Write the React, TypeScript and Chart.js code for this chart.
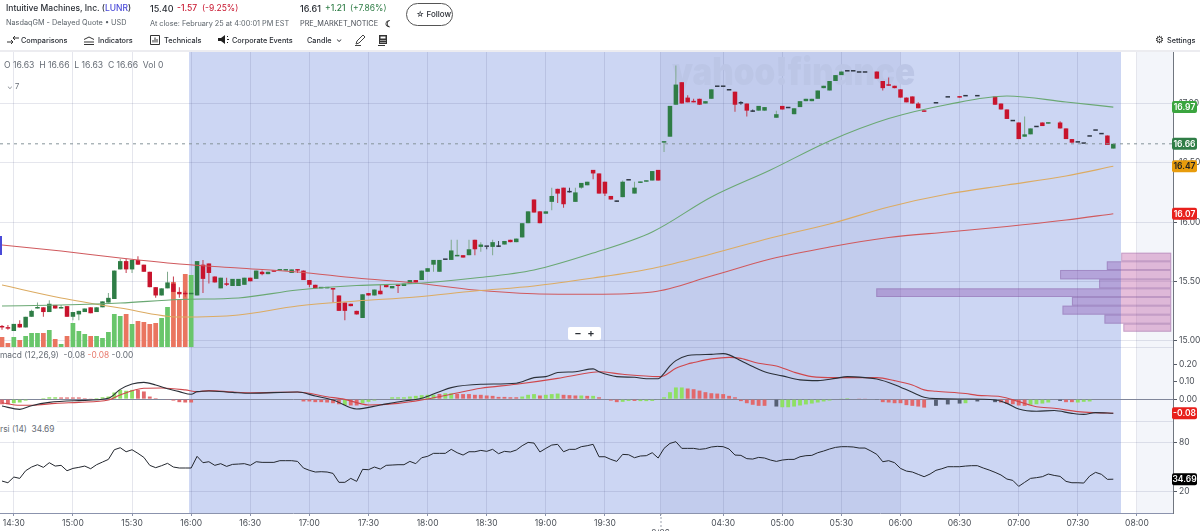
import { useEffect, useRef } from 'react';
import { Chart, registerables } from 'chart.js';

Chart.register(...registerables);

// one candle every 3 minutes; bar 2 is 14:30, overnight gap sits between bar 111 and 112
const opens = [
  15.12,15.11,15.08,15.14,15.11,15.20,15.27,15.28,15.24,15.30,
  15.27,15.29,15.20,15.22,15.24,15.28,15.24,15.28,15.32,15.35,
  15.60,15.67,15.60,15.68,15.64,15.58,15.45,15.38,15.44,15.48,
  15.41,15.40,15.39,15.38,15.64,15.65,15.54,15.44,15.48,15.46,
  15.46,15.47,15.53,15.52,15.58,15.56,15.59,15.59,15.59,15.57,
  15.60,15.59,15.51,15.47,15.44,15.44,15.44,15.38,15.32,15.31,
  15.25,15.19,15.40,15.38,15.42,15.47,15.44,15.47,15.46,15.48,
  15.51,15.51,15.58,15.64,15.58,15.68,15.68,15.71,15.72,15.72,
  15.85,15.79,15.79,15.79,15.79,15.81,15.85,15.83,15.87,15.99,
  16.19,16.09,16.07,16.17,16.28,16.29,16.25,16.17,16.29,16.31,
  16.44,16.41,16.34,16.22,16.17,16.21,16.35,16.24,16.33,16.34,
  16.35,16.44,16.67,16.72,16.99,17.18,17.05,17.02,17.04,17.00,
  17.04,17.14,17.14,17.11,17.10,17.00,17.00,16.93,16.94,16.94,
  null,16.88,16.98,16.96,16.91,16.97,17.02,17.02,17.04,17.13,
  17.11,17.19,17.24,17.27,17.27,17.26,17.26,null,17.27,17.19,
  17.16,17.15,17.12,17.05,17.06,17.00,16.94,null,17.00,null,
  17.05,null,17.06,17.06,null,17.06,null,null,17.06,17.00,
  16.95,16.85,16.84,16.72,16.74,16.80,16.84,16.83,null,16.84,
  16.79,16.70,16.67,16.66,16.72,16.77,16.74,16.73,16.62,
];
const highs = [
  15.13,15.13,15.14,15.17,15.20,15.26,15.32,15.28,15.34,15.30,
  15.30,15.29,15.24,15.25,15.27,15.28,15.28,15.33,15.40,15.59,
  15.69,15.69,15.68,15.71,15.64,15.58,15.45,15.44,15.58,15.54,
  15.45,15.42,15.40,15.67,15.68,15.65,15.54,15.53,15.53,15.52,
  15.52,15.53,15.53,15.59,15.59,15.58,15.59,15.60,15.60,15.60,
  15.60,15.59,15.51,15.47,15.45,15.45,15.44,15.38,15.32,15.31,
  15.25,15.39,15.40,15.43,15.47,15.47,15.46,15.47,15.48,15.51,
  15.51,15.59,15.61,15.68,15.68,15.68,15.85,15.85,15.72,15.85,
  15.85,15.83,15.79,15.85,15.84,15.84,15.85,15.86,15.99,16.09,
  16.19,16.09,16.09,16.29,16.28,16.29,16.29,16.29,16.33,16.34,
  16.44,16.41,16.34,16.22,16.18,16.35,16.35,16.34,16.34,16.35,
  16.43,16.44,16.68,16.98,17.32,17.18,17.07,17.04,17.04,17.02,
  17.12,17.14,17.14,17.11,17.10,17.02,17.00,16.95,16.98,16.97,
  null,16.94,16.98,16.96,16.96,17.02,17.04,17.04,17.11,17.15,
  17.19,17.24,17.27,17.27,17.27,17.26,17.26,null,17.27,17.19,
  17.22,17.15,17.12,17.05,17.06,17.01,16.94,null,17.00,null,
  17.05,null,17.06,17.06,null,17.06,null,null,17.06,17.00,
  16.95,16.85,16.84,16.89,16.79,16.80,16.84,16.84,null,16.85,
  16.79,16.70,16.67,16.66,16.72,16.77,16.74,16.73,16.66,
];
const lows = [
  15.09,15.09,15.08,15.11,15.11,15.20,15.27,15.20,15.24,15.27,
  15.27,15.20,15.17,15.17,15.24,15.23,15.24,15.28,15.32,15.35,
  15.60,15.57,15.57,15.64,15.58,15.45,15.36,15.38,15.44,15.41,
  15.36,15.37,15.38,15.38,15.40,15.48,15.49,15.44,15.46,15.46,
  15.46,15.47,15.50,15.52,15.55,15.56,15.58,15.59,15.59,15.57,
  15.57,15.51,15.45,15.44,15.44,15.44,15.32,15.25,15.17,15.29,
  15.22,15.19,15.38,15.38,15.39,15.45,15.44,15.40,15.46,15.48,
  15.49,15.51,15.58,15.58,15.58,15.68,15.68,15.71,15.70,15.72,
  15.72,15.75,15.77,15.72,15.79,15.81,15.83,15.83,15.87,15.99,
  16.08,15.99,16.07,16.10,16.16,16.12,16.25,16.17,16.28,16.31,
  16.36,16.24,16.22,16.19,16.17,16.21,16.35,16.24,16.33,16.34,
  16.35,16.35,16.59,16.72,16.99,17.00,17.01,17.01,16.99,17.00,
  17.04,17.14,17.14,17.11,16.93,16.99,16.89,16.93,16.94,16.94,
  null,16.88,16.95,16.96,16.91,16.97,17.02,17.02,17.04,17.13,
  17.11,17.19,17.24,17.27,17.27,17.26,17.26,null,17.21,17.11,
  17.15,17.13,17.05,17.01,17.00,16.96,16.93,null,17.00,null,
  17.05,null,17.05,17.06,null,17.06,null,null,16.99,16.95,
  16.87,16.85,16.70,16.72,16.74,16.80,16.81,16.83,null,16.79,
  16.70,16.67,16.67,16.66,16.72,16.77,16.74,16.65,16.62,
];
const closes = [
  15.11,15.10,15.14,15.11,15.20,15.25,15.28,15.24,15.31,15.27,
  15.28,15.20,15.24,15.25,15.27,15.23,15.28,15.33,15.36,15.59,
  15.67,15.60,15.68,15.64,15.58,15.45,15.38,15.44,15.49,15.41,
  15.39,15.39,15.40,15.67,15.52,15.57,15.49,15.53,15.47,15.52,
  15.52,15.53,15.50,15.59,15.56,15.58,15.58,15.60,15.60,15.60,
  15.59,15.51,15.47,15.44,15.45,15.45,15.43,15.25,15.25,15.29,
  15.22,15.39,15.38,15.43,15.39,15.45,15.46,15.46,15.48,15.51,
  15.49,15.59,15.61,15.68,15.68,15.68,15.76,15.72,15.70,15.77,
  15.77,15.81,15.79,15.83,15.79,15.84,15.83,15.86,15.99,16.09,
  16.08,15.99,16.09,16.22,16.24,16.15,16.25,16.25,16.33,16.34,
  16.41,16.24,16.24,16.19,16.17,16.34,16.35,16.29,16.34,16.35,
  16.43,16.35,16.68,16.98,17.16,17.00,17.01,17.01,16.99,17.02,
  17.12,17.14,17.14,17.11,16.99,17.00,16.94,16.93,16.98,16.97,
  null,16.91,16.95,16.96,16.96,17.02,17.04,17.04,17.11,17.15,
  17.19,17.24,17.27,17.27,17.27,17.26,17.26,null,17.21,17.13,
  17.15,17.13,17.05,17.01,17.00,16.96,16.93,null,17.00,null,
  17.05,null,17.05,17.06,null,17.06,null,null,16.99,16.95,
  16.87,16.85,16.70,16.74,16.79,16.80,16.81,16.84,null,16.79,
  16.70,16.67,16.67,16.66,16.72,16.77,16.74,16.65,16.66,
];

// regular session only, thousands of shares
const volumes = [
  10,4,10,7,11,14,14,14,17,8,
  3,11,24,16,13,11,11,9,15,33,
  31,33,23,26,25,23,24,29,40,65,
  47,73,72,
];

const maBars = [0,10,20,30,40,50,60,70,80,90,100,110,120,130,140,150,160,170,180,188];
const maFast = [15.291,15.30,15.316,15.346,15.359,15.426,15.464,15.481,15.527,15.595,15.738,15.916,16.211,16.439,16.684,16.873,16.992,17.063,17.013,16.97];
const maMid = [15.468,15.359,15.274,15.198,15.215,15.291,15.333,15.367,15.418,15.46,15.527,15.608,15.73,15.865,15.983,16.127,16.236,16.312,16.388,16.47];
const maSlow = [15.806,15.755,15.696,15.646,15.612,15.578,15.527,15.485,15.426,15.395,15.39,15.409,15.544,15.688,15.789,15.869,15.916,15.962,16.017,16.07];

const macdBars = [0,3,5,8,13,18,20,22,24,26,28,30,32,33,35,39,42,50,53,56,60,64,68,71,74,76,81,87,90,92,94,97,100,101,104,107,109,111,112,113,114,116,118,120,122,123,125,127,129,132,135,138,141,143,146,148,151,154,156,158,163,168,170,172,175,178,181,183,185,188];
const macdLine = [-.039,-.058,-.037,-.018,-.008,.005,.056,.087,.096,.081,.060,.043,.028,.043,.047,.039,.034,.041,.018,-.005,-.056,-.033,-.010,.005,.043,.066,.085,.091,.123,.129,.152,.157,.173,.157,.129,.125,.117,.117,.148,.190,.220,.249,.254,.256,.260,.253,.220,.186,.157,.133,.110,.106,.119,.129,.123,.115,.083,.039,.011,.003,.001,-.005,-.024,-.056,-.069,-.065,-.081,-.087,-.077,-.08];
const signalBars = [0,3,6,9,13,18,20,24,27,31,33,35,39,42,50,55,58,62,67,71,76,81,87,94,100,101,105,111,112,114,116,117,120,123,125,128,131,134,137,141,148,151,154,156,158,163,165,169,172,175,178,182,185,188];
const signalLine = [-.020,-.035,-.033,-.024,-.018,-.005,.024,.062,.064,.053,.043,.049,.041,.037,.041,.014,-.001,-.033,-.024,-.005,.028,.062,.085,.119,.154,.157,.142,.129,.134,.176,.201,.209,.230,.239,.233,.205,.190,.154,.129,.123,.123,.106,.081,.053,.045,.032,.022,.014,-.014,-.043,-.052,-.071,-.077,-.08];

const histValues = [
  -.029,-.029,-.023,-.019,-.008,0,0,.006,.011,.011,
  .010,.010,.010,.010,.006,.004,.006,.011,.015,.038,
  .053,.048,.053,.053,.044,.015,.006,0,-.004,-.008,
  -.017,-.019,-.019,0,0,0,0,0,0,0,
  0,0,0,0,0,0,0,0,0,0,
  0,-.013,-.013,-.017,-.017,-.019,-.023,-.029,-.034,-.036,
  -.036,-.023,-.015,-.008,0,0,.011,.011,.011,.015,
  .019,.023,.025,.025,.030,.034,.034,.030,.029,.029,
  .025,.025,.021,.019,.013,.013,.011,.011,.015,.025,
  .029,.021,.025,.029,.032,.025,.023,.021,.021,.019,
  .019,.011,0,-.008,-.017,-.015,-.010,-.010,-.011,-.011,
  -.010,-.002,.011,.040,.067,.067,.061,.057,.049,.040,
  .034,.032,.029,.019,.011,-.011,-.023,-.032,-.038,-.038,
  0,-.042,-.046,-.046,-.042,-.036,-.030,-.025,-.019,-.013,
  -.008,0,.004,.006,0,.004,.002,0,-.004,-.017,
  -.019,-.023,-.023,-.034,-.038,-.042,-.048,0,-.038,0,
  -.030,0,-.025,-.023,0,-.013,0,0,-.017,-.019,
  -.027,-.029,-.036,-.038,-.032,-.029,-.025,-.019,0,-.010,
  -.017,-.017,-.019,-.015,-.013,0,0,0,0,
];
// g rising, r falling, d no direction
const histKinds =
  'rrgggddggg' + 'rrrrrrgggg' + 'gggrrrrdrr' + 'rrrddddddd' + 'dddddddddd' +
  'drrrrrrrgr' + 'rgggddgggg' + 'ggggrggrrr' + 'rrrrrrrrgg' + 'grgggrrrgr' +
  'grdrrggrgg' + 'ggggggrrrr' + 'rrrrrrrrrr' + 'ddgggggggg' + 'gdggdrrddr' +
  'rrrrrrrddd' + 'dddgdddddr' + 'rrrrggggdd' + 'rrgggdddd';

const rsiValues = [
  32.4,30.3,37.4,35.7,45.2,49.8,52.7,49.4,55.2,51.0,
  51.9,45.2,48.1,49.4,51.0,47.7,52.7,56.0,59.3,71.3,
  73.8,68.8,71.3,66.8,61.8,51.9,49.0,51.5,54.4,49.8,
  48.6,48.6,48.6,63.1,55.2,56.4,51.9,54.0,50.6,53.1,
  53.5,54.0,51.9,56.4,55.6,55.6,55.6,57.7,57.7,57.7,
  56.8,48.6,45.7,43.6,44.0,43.6,41.9,30.8,30.8,35.7,
  32.0,46.9,46.5,49.8,47.3,51.9,52.3,52.7,52.7,56.8,
  54.0,61.4,63.1,66.8,66.8,66.8,71.8,67.6,64.7,68.8,
  68.8,70.5,69.3,71.8,66.4,69.3,68.5,70.9,76.3,80.4,
  79.6,68.5,73.0,77.1,78.0,68.8,71.8,71.8,75.1,76.3,
  78.0,62.6,62.6,59.3,56.8,65.5,65.1,61.4,63.5,63.9,
  67.6,61.0,73.0,79.2,81.3,73.0,73.0,73.0,71.8,72.6,
  74.7,75.5,75.1,72.2,64.7,64.3,60.2,59.7,61.8,61.0,
  58.5,56.8,58.5,59.3,59.3,62.6,63.9,64.3,67.6,69.7,
  72.2,74.2,75.1,75.1,74.7,73.4,73.4,69.7,65.5,56.4,
  57.7,55.2,48.1,44.8,43.6,40.7,37.8,41.1,45.7,47.7,
  50.2,50.2,50.2,51.0,51.5,51.5,48.6,46.1,43.2,39.9,
  34.9,33.2,25.8,30.8,35.7,36.6,37.8,41.1,39.4,38.2,
  32.0,30.3,30.3,29.9,38.6,43.2,40.7,34.5,34.69,
];

// volume profile: bin edges (price) and traded volume per bin
const profileEdges = [15.741,15.668,15.595,15.516,15.44,15.367,15.294,15.218,15.142,15.074];
const profileVolumes = [8.46,10.9,18.8,12.2,49.9,16.8,18.4,11.3,8.1];

const timeTicks = [2,12,22,32,42,52,62,72,82,92,102,111.4,122,132,142,152,162,172,182,192];
const timeLabels: (string | string[])[] = ['14:30','15:00','15:30','16:00','16:30','17:00','17:30','18:00','18:30','19:00','19:30',['','2/26'],'04:30','05:00','05:30','06:00','06:30','07:00','07:30','08:00'];
const priceTicks = [15,15.5,16,16.5,17];
const macdTicks = [.2,.1,0];
const rsiTicks = [80,20];

const X_MIN = -0.338;
const X_MAX = 198.1;
const SESSION_END = 189.3;
const FONT = 'Inter, "Noto Sans", sans-serif';
const GRID = 'rgba(70,80,130,0.14)';
const UP = '#2f7d46';
const DOWN = '#c8142d';
const FLAT = '#2e3642';

const bandsPlugin = {
  id: 'bands',
  beforeDraw(chart: any) {
    const { ctx, chartArea: a, scales } = chart;
    const x = scales.x;
    const fill = (from: number, to: number, color: string) => {
      const l = x.getPixelForValue(from);
      ctx.fillStyle = color;
      ctx.fillRect(l, a.top, x.getPixelForValue(to) - l, a.bottom - a.top);
    };
    ctx.save();
    fill(31.65, SESSION_END, '#ccd6f3');
    fill(111.4, 151.9, '#c2cced');
    fill(192, X_MAX, '#f3f5fa');
    ctx.restore();
  },
  beforeDatasetsDraw(chart: any) {
    const { ctx, scales } = chart;
    const x = scales.x;
    const y = scales.y;
    ctx.save();
    ctx.fillStyle = '#bcc6e6';
    ctx.font = `900 38px ${FONT}`;
    ctx.textBaseline = 'alphabetic';
    ctx.textAlign = 'left';
    ctx.fillText('yahoo!finance', 672, 85, 243);
    profileVolumes.forEach((v, k) => {
      const left = x.getPixelForValue(197.8 - v);
      const split = Math.max(left, x.getPixelForValue(SESSION_END));
      const right = x.getPixelForValue(197.8);
      const top = y.getPixelForValue(profileEdges[k]);
      const bottom = y.getPixelForValue(profileEdges[k + 1]);
      ctx.fillStyle = 'rgba(145,90,180,0.4)';
      ctx.fillRect(left, top, split - left, bottom - top);
      ctx.fillStyle = 'rgba(190,85,160,0.38)';
      ctx.fillRect(split, top, right - split, bottom - top);
      ctx.strokeStyle = 'rgba(120,80,150,0.3)';
      ctx.strokeRect(left + 0.5, top + 0.5, right - left - 1, bottom - top - 1);
    });
    ctx.restore();
  },
  afterDraw(chart: any) {
    const { ctx, scales } = chart;
    const badge = (scale: any, value: number, text: string, bg: string, fg: string) => {
      const py = scale.getPixelForValue(value);
      ctx.fillStyle = bg;
      ctx.beginPath();
      ctx.roundRect(1172, py - 6, 25, 12, 2);
      ctx.fill();
      ctx.fillStyle = fg;
      ctx.fillText(text, 1184.5, py + 0.5);
    };
    ctx.save();
    ctx.font = `600 8.5px ${FONT}`;
    ctx.textAlign = 'center';
    ctx.textBaseline = 'middle';
    badge(scales.y, maFast[maFast.length - 1], '16.97', '#3ba53f', '#fff');
    badge(scales.y, closes[closes.length - 1] as number, '16.66', '#2f7d46', '#fff');
    badge(scales.y, maMid[maMid.length - 1], '16.47', '#e89c0c', '#222');
    badge(scales.y, maSlow[maSlow.length - 1], '16.07', '#e8201c', '#fff');
    badge(scales.macd, signalLine[signalLine.length - 1], '-0.08', '#e8201c', '#fff');
    badge(scales.rsi, rsiValues[rsiValues.length - 1], '34.69', '#000', '#fff');
    // dotted day separator under the time axis
    const dx = scales.x.getPixelForValue(111.4);
    ctx.strokeStyle = '#9aa0ac';
    ctx.setLineDash([2, 2]);
    ctx.beginPath();
    ctx.moveTo(dx + 0.5, scales.x.top);
    ctx.lineTo(dx + 0.5, 527);
    ctx.stroke();
    ctx.restore();
  },
};

const candleColor = (i: number) => {
  const o = opens[i] as number;
  const c = closes[i] as number;
  return c > o ? UP : c < o ? DOWN : FLAT;
};
const wickColor = (i: number) => {
  const o = opens[i] as number;
  const c = closes[i] as number;
  return c > o ? '#7fa98c' : c < o ? '#c43a4c' : '#3c4450';
};
const histColor = (k: string) => (k === 'g' ? '#8ee064' : k === 'r' ? '#e2696c' : '#566074');

const bars = opens.map((_, i) => i).filter((i) => opens[i] !== null);

const line = (label: string, xs: number[], ys: number[], color: string, axis: string) => ({
  type: 'line' as const,
  label,
  data: xs.map((x, k) => ({ x, y: ys[k] })),
  yAxisID: axis,
  borderColor: color,
  borderWidth: 1.1,
  pointRadius: 0,
  cubicInterpolationMode: 'monotone' as const,
  order: 1,
});

const rightAxis = (weight: number, stackWeight: number, min: number, max: number, ticks: number[], edges: number[], gridColor: (v: number) => string, fmt: (v: number) => string) => ({
  type: 'linear' as const,
  position: 'right' as const,
  stack: 'panes',
  stackWeight,
  weight,
  min,
  max,
  afterBuildTicks: (s: any) => {
    s.ticks = [...edges, ...ticks].map((value) => ({ value }));
  },
  afterFit: (s: any) => {
    s.width = 27;
  },
  border: { color: '#70767f' },
  grid: {
    color: (ctx: any) => gridColor(ctx.tick.value),
    tickColor: (ctx: any) => (ticks.includes(ctx.tick.value) ? '#555b66' : 'rgba(0,0,0,0)'),
    tickLength: 4,
  },
  ticks: {
    autoSkip: false,
    padding: 2,
    color: '#4a4f57',
    font: { family: FONT, size: 8.5 },
    callback: (v: any) => (ticks.includes(v) ? fmt(v) : ''),
  },
});

export default function App() {
  const canvasRef = useRef<HTMLCanvasElement>(null);

  useEffect(() => {
    if (!canvasRef.current) return;

    const chart = new Chart(canvasRef.current, {
      type: 'bar',
      data: {
        datasets: [
          line('MA fast', maBars, maFast, '#6aa873', 'y'),
          line('MA mid', maBars, maMid, '#dcab62', 'y'),
          line('MA slow', maBars, maSlow, '#d05a5e', 'y'),
          {
            type: 'line',
            label: 'last',
            data: [{ x: X_MIN, y: closes[closes.length - 1] }, { x: X_MAX, y: closes[closes.length - 1] }],
            yAxisID: 'y',
            borderColor: '#85939a',
            borderWidth: 1,
            borderDash: [3, 4],
            pointRadius: 0,
            order: 1,
          },
          {
            label: 'body',
            data: bars.map((i) => ({ x: i, y: [opens[i], closes[i]] })),
            yAxisID: 'y',
            grouped: false,
            categoryPercentage: 1,
            barPercentage: 0.76,
            minBarLength: 1.5,
            backgroundColor: bars.map(candleColor),
            order: 2,
          },
          {
            label: 'wick',
            data: bars.map((i) => ({ x: i, y: [lows[i], highs[i]] })),
            yAxisID: 'y',
            grouped: false,
            categoryPercentage: 1,
            barPercentage: 0.17,
            backgroundColor: bars.map(wickColor),
            order: 3,
          },
          {
            label: 'volume',
            data: volumes.map((v, i) => ({ x: i, y: v })),
            yAxisID: 'yVol',
            grouped: false,
            categoryPercentage: 1,
            barPercentage: 0.8,
            backgroundColor: volumes.map((_, i) => ((closes[i] as number) < (opens[i] as number) ? '#ea7560' : '#69c66b')),
            order: 4,
          },
          {
            label: 'hist',
            data: histValues.map((v, i) => ({ x: i, y: v })),
            yAxisID: 'macd',
            grouped: false,
            categoryPercentage: 1,
            barPercentage: 0.65,
            backgroundColor: histValues.map((_, i) => histColor(histKinds[i])),
            order: 3,
          },
          line('macd', macdBars, macdLine, '#2b3038', 'macd'),
          line('signal', signalBars, signalLine, '#cf474c', 'macd'),
          {
            type: 'line',
            label: 'rsi',
            data: rsiValues.map((v, i) => ({ x: i, y: v })),
            yAxisID: 'rsi',
            borderColor: '#23272e',
            borderWidth: 1,
            pointRadius: 0,
            order: 1,
          },
        ] as any,
      },
      options: {
        responsive: false,
        animation: false,
        layout: { padding: { top: 52, left: 0, right: 0, bottom: 0 } },
        plugins: {
          legend: { display: false },
          tooltip: { enabled: false },
        },
        scales: {
          x: {
            type: 'linear',
            min: X_MIN,
            max: X_MAX,
            offset: false,
            afterBuildTicks: (s: any) => {
              s.ticks = timeTicks.map((value) => ({ value }));
            },
            afterFit: (s: any) => {
              s.height = 18;
            },
            border: { color: '#8b93ad' },
            grid: { offset: false, color: GRID, tickColor: '#8b93ad', tickLength: 3 },
            ticks: {
              autoSkip: false,
              maxRotation: 0,
              padding: 2,
              color: '#4a4f57',
              font: { family: FONT, size: 8.5 },
              callback: (v: any) => timeLabels[timeTicks.indexOf(v)] ?? '',
            },
          },
          y: rightAxis(1, 295, 14.945, 17.435, priceTicks, [], () => GRID, (v) => v.toFixed(2)),
          macd: rightAxis(2, 74, -0.1246, 0.298, macdTicks, [0.298, -0.1246], (v) => (v === 0 ? '#80869a' : v === 0.2 || v === 0.1 ? 'rgba(0,0,0,0)' : GRID), (v) => v.toFixed(2)),
          rsi: rightAxis(3, 92, -7.3, 107, rsiTicks, [], () => GRID, (v) => String(v)),
          yVol: {
            type: 'linear',
            display: false,
            position: 'right',
            min: -166,
            max: 295,
          },
        },
      } as any,
      plugins: [bandsPlugin],
    });

    return () => {
      chart.destroy();
    };
  }, []);

  return (
    <div style={{ position: 'absolute', left: 0, top: 0, width: 1200, height: 531, overflow: 'hidden', background: '#fff', fontFamily: FONT, fontSize: 8.5, color: '#2b2f36' }}>
      <canvas ref={canvasRef} width={1200} height={531} style={{ position: 'absolute', left: 0, top: 0, display: 'block' }} />
      <Text x={6} y={3} weight={500}>Intuitive Machines, Inc. (<span style={{ color: '#4a4ad8' }}>LUNR</span>)</Text>
      <Text x={6} y={17} color="#5b636a" size={7.3}>NasdaqGM - Delayed Quote • USD</Text>
      <Text x={150} y={3} size={9} weight={500}>15.40</Text>
      <Text x={177} y={3} color="#c8142d" weight={500}>-1.57</Text>
      <Text x={202} y={3} color="#c8142d">(-9.25%)</Text>
      <Text x={150} y={18} color="#5b636a" size={7.3}>At close: February 25 at 4:00:01 PM EST</Text>
      <Text x={300} y={3} size={9} weight={500}>16.61</Text>
      <Text x={325} y={3} color="#2f7d46" weight={500}>+1.21</Text>
      <Text x={350} y={3} color="#2f7d46">(+7.86%)</Text>
      <Text x={300} y={18} size={7.3} color="#4a4f57">PRE_MARKET_NOTICE</Text>
      <Text x={385} y={18} size={9} weight={700} color="#111">☾</Text>
      <div style={{ position: 'absolute', left: 406, top: 3, width: 47, height: 23, border: '1px solid #555', borderRadius: 12, boxSizing: 'border-box' }} />
      <Text x={416} y={9} size={8} weight={500}>☆ Follow</Text>

      <Icon x={7} y={36} w={12} h={9}><path d="M0 6h6M4 4l2 2-2 2M12 2H6M8 0L6 2l2 2" fill="none" stroke="#333" /></Icon>
      <Text x={21} y={35} size={7.3} weight={500}>Comparisons</Text>
      <Icon x={84} y={36} w={10} h={9}><path d="M0 8.5h10M0 6h10M0 3.5L5 1l5 2.5" fill="none" stroke="#333" /></Icon>
      <Text x={98} y={35} size={7.3} weight={500}>Indicators</Text>
      <Icon x={150} y={35} w={10} h={10}><path d="M.5.5h9v9h-9zM3 7.5V5M5 7.5V2.5M7 7.5V4" fill="none" stroke="#333" /></Icon>
      <Text x={164} y={35} size={7.3} weight={500}>Technicals</Text>
      <Icon x={218} y={35} w={11} h={10}><path d="M0 3h3l4-3v9L3 6H0z M9 1h1v1H9z M9 4h2v1H9z M9 7h1v1H9z" fill="#222" /></Icon>
      <Text x={232} y={35} size={7.3} weight={500}>Corporate Events</Text>
      <Text x={307} y={35} size={7.3} weight={500}>Candle</Text>
      <Text x={336} y={34} size={8}>⌄</Text>
      <Icon x={355} y={34} w={11} h={12}><path d="M1 10l1-3 6-6 2 2-6 6zM0 11.5h6" fill="none" stroke="#444" /></Icon>
      <Icon x={377} y={35} w={10} h={11}><path d="M0 1h1v10h7v-1H1V1z M2 0h8v9H2z" fill="#333" /><path d="M3.5 1.5h5v2h-5z M3.5 5h1v1h-1z M5.5 5h1v1h-1z M7.5 5h1v1h-1z M3.5 7h1v1h-1z M5.5 7h1v1h-1z M7.5 7h1v1h-1z" fill="#fff" /></Icon>
      <Text x={1155} y={34} size={10} color="#222">⚙</Text>
      <Text x={1167} y={35} size={7.3} weight={500}>Settings</Text>
      <div style={{ position: 'absolute', left: 0, top: 50, width: 1200, height: 2, background: '#ececf0' }} />

      <Text x={4} y={60} color="#666c75" size={8.6}>O 16.63&nbsp; H 16.66&nbsp; L 16.63&nbsp; C 16.66&nbsp; Vol 0</Text>
      <Text x={7} y={81} color="#666c75" size={7.5}>⌄ 7</Text>
      <div style={{ position: 'absolute', left: 0, top: 236, width: 2, height: 19, background: '#4a4ad8' }} />
      <div style={{ position: 'absolute', left: 568, top: 327, width: 33, height: 13, background: '#fff', borderRadius: 2, textAlign: 'center', lineHeight: '13px', fontSize: 11, fontWeight: 600 }}>−&nbsp; +</div>
      <Text x={0} y={350} color="#666c75" size={8.4}>macd (12,26,9)&nbsp; -0.08 <span style={{ color: '#e8796c' }}>-0.08</span> -0.00</Text>
      <div style={{ position: 'absolute', left: 0, top: 420, width: 57, height: 21, background: '#fff' }} />
      <Text x={0} y={424} color="#666c75" size={8.4}>rsi (14)&nbsp; 34.69</Text>
    </div>
  );
}

function Text({ x, y, size = 8.5, weight = 400, color, children }: { x: number; y: number; size?: number; weight?: number; color?: string; children: any }) {
  return (
    <div style={{ position: 'absolute', left: x, top: y, fontSize: size, fontWeight: weight, color, whiteSpace: 'nowrap', lineHeight: '11px' }}>
      {children}
    </div>
  );
}

function Icon({ x, y, w, h, children }: { x: number; y: number; w: number; h: number; children: any }) {
  return (
    <svg width={w} height={h} viewBox={`0 0 ${w} ${h}`} style={{ position: 'absolute', left: x, top: y }}>
      {children}
    </svg>
  );
}
